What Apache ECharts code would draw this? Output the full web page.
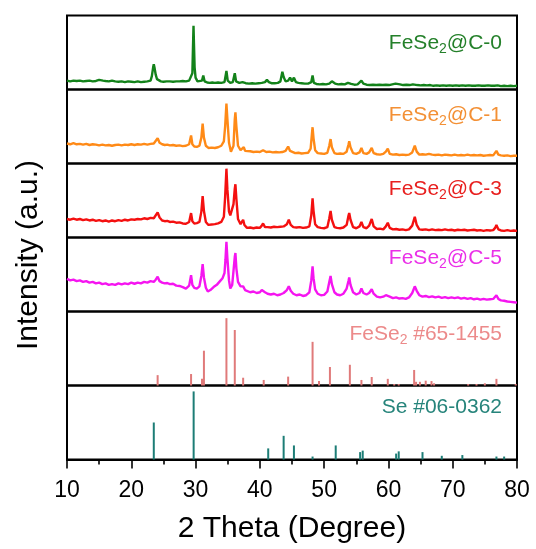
<!DOCTYPE html>
<html>
<head>
<meta charset="utf-8">
<script src="https://cdn.jsdelivr.net/npm/echarts@6/dist/echarts.min.js"></script>
<style>
  html, body { margin: 0; padding: 0; background: #fff; }
  #chart { width: 536px; height: 549px; }
</style>
</head>
<body>
<div id="chart"></div>
<script>
// 2theta range + tick step of the shared bottom axis
const xMin = 10
const xMax = 80
const xStep = 10

// measured patterns, intensity in % of its own panel height
const c0Pattern = [[10,12],[10.5,11],[11,12],[11.5,11.5],[12,12],[12.5,11],[13,11.5],[13.5,12],[14,11],[14.5,11.5],[15,13],[15.3,14],[15.6,12],[16,11.5],[16.5,11],[17,12],[17.5,11],[18,10.5],[18.5,11],[19,10],[19.5,11],[20,10.5],[20.5,10],[21,11],[21.5,10],[22,10.5],[22.5,11],[23,12],[23.2,18],[23.4,30],[23.5,34],[23.6,30],[23.8,20],[24,14],[24.3,12],[24.6,11],[25,10.5],[25.5,11],[26,11],[26.5,10.5],[27,11],[27.5,11],[28,11.5],[28.5,11],[29,12],[29.3,14],[29.5,22],[29.6,58],[29.68,86],[29.75,62],[29.85,30],[30,16],[30.3,11],[30.6,10],[31,12],[31.2,19],[31.4,11],[31.8,9.5],[32.2,9],[32.6,9.5],[33,9],[33.5,9.5],[34,9],[34.5,10],[34.8,25],[35,12],[35.4,9],[35.8,10],[36.1,22],[36.3,11],[36.8,9],[37.3,10],[37.8,8.5],[38.3,8],[38.8,8.5],[39.3,8],[39.8,8.5],[40.3,9],[40.8,10],[41.1,13],[41.4,10],[41.8,8.5],[42.3,8.5],[42.8,9],[43.2,11],[43.5,24],[43.7,17],[44,11],[44.4,12],[44.7,16],[45,11],[45.3,16],[45.6,10],[46,9],[46.5,8.5],[47,8],[47.5,8],[48,10],[48.2,19],[48.4,9],[48.8,7.5],[49.3,7],[49.8,7.5],[50.3,7],[50.8,8],[51.2,11],[51.4,13],[51.7,8],[52.2,7],[52.7,7.5],[53.2,7],[53.7,9],[53.9,11],[54.2,7.5],[54.7,6.5],[55.2,7],[55.5,9],[55.8,12],[56.1,8],[56.6,6.5],[57.1,6],[57.6,6.5],[58.1,6],[58.6,6.5],[59.1,6],[59.6,6.5],[60.1,6],[60.6,7],[61.1,8],[61.4,9],[61.8,7],[62.3,6],[62.8,6.5],[63.3,6],[63.8,7],[64.1,8],[64.5,6],[65,5.5],[65.5,6],[66,5.5],[66.5,6],[67,5],[67.5,5.5],[68,5],[68.5,5.5],[69,5],[69.5,5.5],[70,5],[70.5,5.5],[71,5],[71.5,5.5],[72,5],[72.5,5.5],[73,5],[73.5,5],[74,5.5],[74.5,5],[75,5],[75.5,5.5],[76,5],[76.5,5],[77,5.5],[77.5,4.5],[78,5],[78.5,4.5],[79,5],[79.5,4.5],[80,5]]

const c1Pattern = [[10,27],[10.5,26],[11,27.5],[11.5,26],[12,26.5],[12.5,25.5],[13,26.5],[13.5,25],[14,26],[14.5,25.5],[15,24.5],[15.5,25.5],[16,24.5],[16.5,25],[17,24],[17.5,25],[18,25.5],[18.5,24.5],[19,25.5],[19.5,25],[20,26],[20.5,25],[21,26],[21.5,25.5],[22,26.5],[22.5,25.5],[23,26.5],[23.5,27],[23.8,29],[24.1,34],[24.4,28],[24.8,26],[25.2,25],[25.6,25.5],[26,24.5],[26.5,25],[27,24],[27.5,24.5],[28,23.5],[28.5,24],[29,26],[29.3,38],[29.5,26],[29.8,23],[30.2,22.5],[30.6,24],[30.9,35],[31.1,54],[31.3,35],[31.6,24],[32,21],[32.5,21.5],[33,21],[33.5,22],[34,24],[34.4,30],[34.6,50],[34.8,81],[34.95,60],[35.2,28],[35.5,16],[35.7,14],[35.9,24],[36.1,60],[36.2,69],[36.35,50],[36.6,24],[37,18],[37.3,20],[37.5,22],[37.7,17],[38,16],[38.5,16.5],[39,15.5],[39.5,16],[40,15.5],[40.5,18],[41,15.5],[41.5,16],[42,15],[42.5,15.5],[43,15],[43.5,15.5],[44,17],[44.4,23],[44.7,17],[45,15],[45.5,14],[46,14.5],[46.5,13.5],[47,14],[47.5,14.5],[47.9,20],[48.1,40],[48.2,49],[48.35,34],[48.6,18],[49,14],[49.5,13.5],[50,13],[50.5,14.5],[50.8,24],[51,33],[51.2,22],[51.6,14],[52,13],[52.5,13.5],[53,13],[53.5,16],[53.8,26],[53.9,30],[54.1,22],[54.5,14],[55,13],[55.5,15],[55.8,21],[56.1,14],[56.6,13],[57,15],[57.4,21],[57.7,14],[58.2,12.5],[58.7,12],[59.2,13],[59.6,16],[59.9,20],[60.2,13],[60.7,12],[61.2,12.5],[61.7,11.5],[62.2,12],[62.7,11.5],[63.2,12],[63.7,15],[64.1,24],[64.4,16],[64.8,12],[65.3,12.5],[65.8,12],[66.3,13],[66.8,12],[67.3,11.5],[67.8,12],[68.3,11],[68.8,12],[69.3,11.5],[69.8,11],[70.3,12],[70.8,11],[71.3,11.5],[71.8,11],[72.3,12],[72.8,11],[73.3,11.5],[73.8,11],[74.3,11.5],[74.8,10.5],[75.3,11],[75.8,11.5],[76.3,11],[76.6,13],[76.8,17],[77.1,12],[77.5,11],[78,10.5],[78.5,11],[79,10],[79.5,10.5],[80,10.5]]

const c3Pattern = [[10,25],[10.5,24],[11,25.5],[11.5,24],[12,25],[12.5,23.5],[13,24.5],[13.5,23],[14,24],[14.5,22.5],[15,23.5],[15.5,22],[16,23],[16.5,21.5],[17,23],[17.5,22],[18,23.5],[18.5,22.5],[19,24],[19.5,23],[20,24.5],[20.5,24],[21,25],[21.5,24.5],[22,26],[22.5,25],[23,26.5],[23.5,26],[23.8,28],[24.1,34],[24.4,27],[24.8,23],[25.2,22],[25.6,22.5],[26,21],[26.5,21.5],[27,20],[27.5,20.5],[28,19],[28.5,18.5],[29,21],[29.3,33],[29.5,22],[29.8,19],[30.2,19.5],[30.6,21],[30.9,35],[31.1,56],[31.3,36],[31.6,21],[32,17],[32.5,17.5],[33,18],[33.5,19],[34,21],[34.4,28],[34.6,55],[34.8,93],[34.95,65],[35.2,35],[35.4,30],[35.7,32],[35.9,45],[36.1,66],[36.2,72],[36.35,52],[36.6,25],[37,18],[37.2,21],[37.4,24],[37.6,17],[38,13],[38.5,13.5],[39,12.5],[39.5,13.5],[40,13],[40.3,16],[40.5,19],[40.8,14],[41.2,14],[41.7,13.5],[42.2,14.5],[42.7,14],[43.2,14.5],[43.7,15],[44.2,18],[44.5,24],[44.8,17],[45.2,14],[45.7,13.5],[46.2,14],[46.7,13],[47.2,13.5],[47.7,15],[48,30],[48.2,53],[48.35,36],[48.6,18],[49,14],[49.5,13],[50,12.5],[50.5,14],[50.8,26],[51,36],[51.2,24],[51.6,14],[52,13],[52.5,12.5],[53,13.5],[53.5,17],[53.8,30],[53.9,33],[54.1,24],[54.5,14],[55,12.5],[55.5,15],[55.8,21],[56.1,14],[56.6,12.5],[57,16],[57.4,25],[57.7,15],[58.2,11.5],[58.7,12],[59.2,11],[59.6,15],[59.9,20],[60.2,13],[60.7,11],[61.2,11.5],[61.7,10.5],[62.2,11],[62.7,10],[63.2,11],[63.7,16],[64.1,28],[64.4,17],[64.8,11],[65.3,10.5],[65.8,11],[66.3,10],[66.8,11],[67.3,10],[67.8,10.5],[68.3,10],[68.8,11],[69.3,10],[69.8,10.5],[70.3,9.5],[70.8,10.5],[71.3,10],[71.8,10.5],[72.3,9.5],[72.8,10],[73.3,10.5],[73.8,9.5],[74.3,10],[74.8,9],[75.3,10],[75.8,9.5],[76.3,10],[76.6,13],[76.8,17],[77.1,11],[77.5,9.5],[78,9],[78.5,10],[79,9],[79.5,9.5],[80,9]]

const c5Pattern = [[10,44],[10.5,42],[11,43],[11.5,41],[12,42],[12.5,40],[13,41],[13.5,39],[14,40],[14.5,38],[15,39],[15.5,37],[16,38],[16.5,36],[17,37],[17.5,36],[18,38],[18.5,36.5],[19,38],[19.5,37],[20,39],[20.5,37.5],[21,39],[21.5,38],[22,40],[22.5,39],[23,41],[23.5,40],[23.8,43],[24.1,47],[24.4,41],[24.8,39],[25.2,38],[25.6,38.5],[26,37],[26.5,37.5],[27,35],[27.5,34.5],[28,33],[28.5,31],[29,35],[29.3,49],[29.5,36],[29.8,32],[30.2,31],[30.6,34],[30.9,48],[31.1,64],[31.3,46],[31.6,32],[31.9,27],[32.3,29],[32.8,33],[33.3,36],[33.8,41],[34.2,45],[34.5,52],[34.65,70],[34.8,94],[34.95,72],[35.2,42],[35.4,31],[35.7,36],[35.9,55],[36.1,74],[36.2,79],[36.35,58],[36.6,40],[37,34],[37.2,32],[37.4,34],[37.7,29],[38,27],[38.5,26],[39,27],[39.5,25],[40,26],[40.3,29],[40.5,31],[40.8,26],[41.2,24],[41.7,23],[42.2,24],[42.7,22],[43.2,23],[43.7,25],[44.2,29],[44.5,34],[44.8,28],[45.2,24],[45.7,22],[46.2,23],[46.7,21],[47.2,22],[47.7,26],[48,42],[48.2,61],[48.35,45],[48.6,30],[49,24],[49.5,22],[50,22.5],[50.5,27],[50.8,40],[51,48],[51.2,37],[51.6,26],[52,23],[52.5,22],[53,24],[53.5,31],[53.8,42],[53.9,46],[54.1,36],[54.5,26],[55,23],[55.5,25],[55.8,31],[56.1,25],[56.6,23],[57,25],[57.4,30],[57.7,24],[58.2,20],[58.7,19],[59.2,20],[59.6,22],[59.9,24.5],[60.2,20],[60.7,18],[61.2,19],[61.7,17.5],[62.2,18],[62.7,17],[63.2,19],[63.7,25],[64.1,34],[64.4,28],[64.8,22],[65.3,20],[65.8,21],[66.3,19.5],[66.8,20.5],[67.3,19],[67.8,20],[68.3,18.5],[68.8,19.5],[69.3,18],[69.8,19],[70.3,18],[70.8,19],[71.3,17.5],[71.8,18.5],[72.3,17],[72.8,18],[73.3,16.5],[73.8,17.5],[74.3,16],[74.8,17],[75.3,16],[75.8,16.5],[76.3,17],[76.6,19],[76.8,22],[77.1,17],[77.5,15],[78,14.5],[78.5,13.5],[79,13],[79.5,12.5],[80,12]]

// reference cards (stick patterns)
const fese2Pos = [24.1, 29.3, 31.0, 31.3, 34.8, 36.1, 37.4, 40.6, 44.4, 48.2, 49.2, 50.9, 54.0, 55.8, 57.4, 59.9, 60.9, 61.6, 64.0, 64.3, 64.9, 65.8, 66.7, 67.1, 72.4, 73.7, 75.0, 76.8, 79.8]
const fese2Int = [14, 15.5, 9, 47, 91, 75, 10.5, 7.5, 12, 59, 6, 25, 28, 7.5, 11.5, 9, 2, 2, 21, 5, 5, 6.5, 6, 3, 2, 2, 3, 9, 2]
const sePos = [23.5, 29.7, 41.3, 43.7, 45.3, 48.2, 51.8, 55.6, 56.0, 61.2, 61.6, 65.3, 68.3, 71.5, 76.8, 78.0]
const seInt = [50, 92, 15, 32, 19, 4, 19, 10, 12, 8, 11, 10, 5, 6, 4, 4]

// panel labels, top to bottom: [main, subscript, rest]
const panelLabels = [
  ['FeSe', '2', '@C-0'],
  ['FeSe', '2', '@C-1'],
  ['FeSe', '2', '@C-3'],
  ['FeSe', '2', '@C-5'],
  ['FeSe', '2', ' #65-1455'],
  ['Se #06-0362', '', '']
]
const lineColors = ['#13821a', '#ff8a17', '#f41010', '#f515f0', '#e07a7a', '#1d7d76']
const textColors = ['#24802a', '#f39035', '#e8201f', '#ea2fe8', '#ec8a8a', '#26847b']

const FONT = '"Liberation Sans", Arial, sans-serif'
const left = 67, right = 19, top0 = 15.5, panelH = 74
const labelY = [43.5, 115.5, 189, 258, 334, 407]

const chart = echarts.init(document.getElementById('chart'), null, { renderer: 'canvas' })

const traces = [c0Pattern, c1Pattern, c3Pattern, c5Pattern]
const sticks = [
  fese2Pos.map((p, i) => [p, fese2Int[i]]),
  sePos.map((p, i) => [p, seInt[i]])
]

const grids = [], xAxes = [], yAxes = [], series = [], graphics = []
for (let i = 0; i < 6; i++) {
  const last = i === 5
  grids.push({
    left: left, right: right, top: top0 + panelH * i, height: panelH,
    show: true, borderColor: '#000', borderWidth: 2, backgroundColor: 'transparent'
  })
  xAxes.push({
    type: 'value', gridIndex: i, min: xMin, max: xMax, interval: xStep,
    show: last,
    axisLine: { show: true, onZero: false, lineStyle: { color: '#000', width: 2 } },
    axisTick: { show: true, length: 9, lineStyle: { color: '#000', width: 1.6 } },
    minorTick: { show: true, splitNumber: 2, length: 5, lineStyle: { color: '#000', width: 1.6 } },
    splitLine: { show: false },
    axisLabel: { color: '#000', fontSize: 23, fontFamily: FONT, margin: 20 },
    name: last ? '2 Theta (Degree)' : '',
    nameLocation: 'middle', nameGap: 54,
    nameTextStyle: { color: '#000', fontSize: 30, fontFamily: FONT }
  })
  yAxes.push({
    type: 'value', gridIndex: i, min: 0, max: 100, show: false
  })
  if (i < 4) {
    series.push({
      type: 'line', xAxisIndex: i, yAxisIndex: i, data: traces[i],
      symbol: 'none', lineStyle: { color: lineColors[i], width: 2.4 },
      silent: true
    })
  } else {
    series.push({
      type: 'bar', xAxisIndex: i, yAxisIndex: i, data: sticks[i - 4],
      barWidth: 2, itemStyle: { color: lineColors[i] }, silent: true
    })
  }
  const lab = panelLabels[i]
  graphics.push({
    type: 'text', x: 502, y: labelY[i], silent: true,
    style: {
      text: '{a|' + lab[0] + '}' + (lab[1] ? '{b|' + lab[1] + '}' : '') + (lab[2] ? '{a|' + lab[2] + '}' : ''),
      align: 'right', verticalAlign: 'middle',
      rich: {
        a: { fontSize: 21, fontFamily: FONT, fill: textColors[i], lineHeight: 26 },
        b: { fontSize: 14, fontFamily: FONT, fill: textColors[i], lineHeight: 10, verticalAlign: 'bottom' }
      }
    }
  })
}

graphics.push({
  type: 'text', x: 29, y: 255, rotation: Math.PI / 2, silent: true,
  style: {
    text: 'Intensity (a.u.)', align: 'center', verticalAlign: 'middle',
    fontSize: 30, fontFamily: FONT, fill: '#000'
  }
})

chart.setOption({
  animation: false,
  backgroundColor: '#fff',
  grid: grids,
  xAxis: xAxes,
  yAxis: yAxes,
  series: series,
  graphic: graphics
})
</script>
</body>
</html>
